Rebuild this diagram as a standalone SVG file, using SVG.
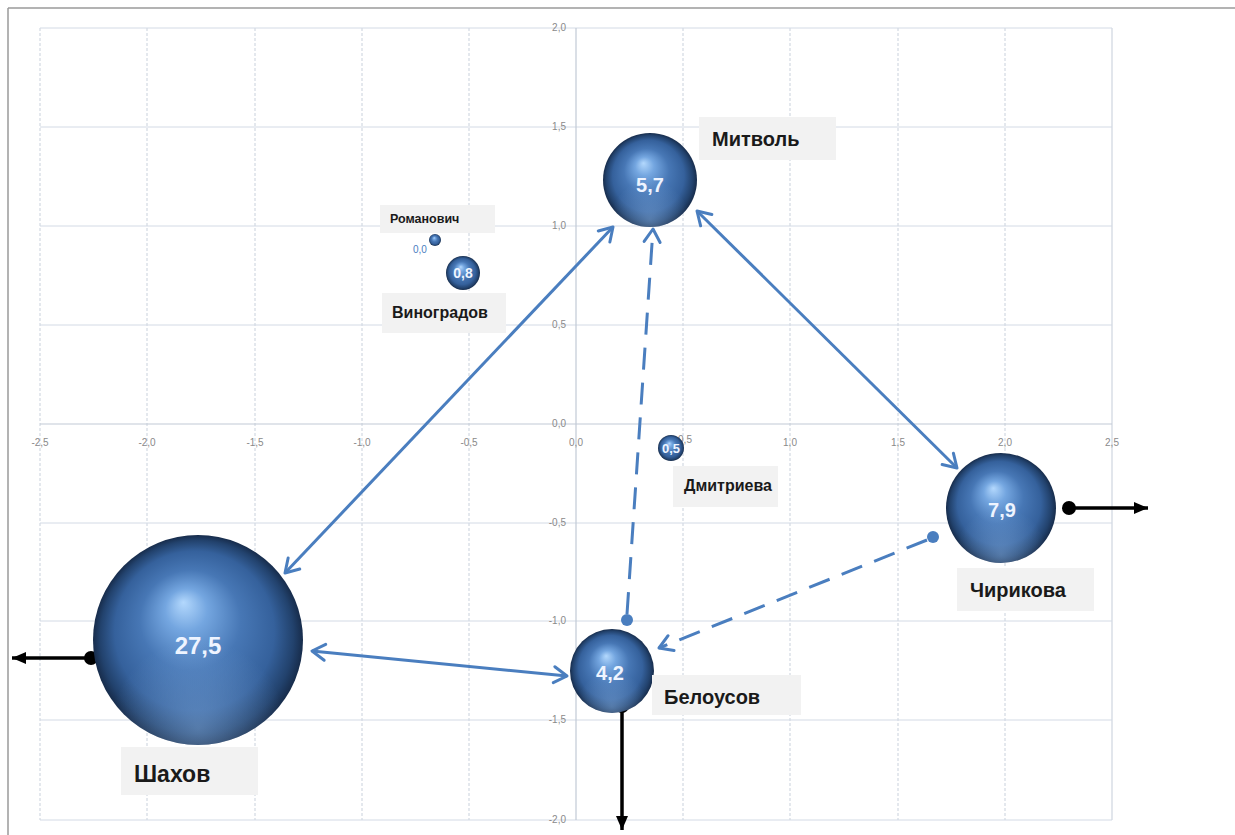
<svg xmlns="http://www.w3.org/2000/svg" width="1235" height="835" viewBox="0 0 1235 835">
<defs>
<radialGradient id="sph" cx="0.5" cy="0.5" r="0.5" fx="0.43" fy="0.32">
<stop offset="0" stop-color="#b3d8fd"/>
<stop offset="0.2" stop-color="#74a6e0"/>
<stop offset="0.48" stop-color="#4777b5"/>
<stop offset="0.76" stop-color="#35619c"/>
<stop offset="0.92" stop-color="#22426d"/>
<stop offset="1" stop-color="#172c4b"/>
</radialGradient>
<radialGradient id="rim" cx="0.5" cy="0.92" r="0.42">
<stop offset="0" stop-color="#8fb8e8" stop-opacity="0.45"/>
<stop offset="1" stop-color="#8fb8e8" stop-opacity="0"/>
</radialGradient>
<marker id="open" viewBox="0 0 20 20" markerWidth="20" markerHeight="20" refX="17" refY="10" orient="auto-start-reverse" markerUnits="userSpaceOnUse">
<path d="M4,2 L17,10 L4,18" fill="none" stroke="#4a7ebf" stroke-width="3" stroke-linecap="round" stroke-linejoin="round"/>
</marker>
<marker id="blk" viewBox="0 0 16 14" markerWidth="16" markerHeight="14" refX="15" refY="7" orient="auto" markerUnits="userSpaceOnUse">
<path d="M1,1 L15,7 L1,13 z" fill="#000"/>
</marker>
<style>
.vg{stroke:#c9d1dc;stroke-width:1;stroke-dasharray:3 2;fill:none}
.hg{stroke:#d3dae5;stroke-width:1;fill:none}
.ax{font-family:"Liberation Sans",Arial,sans-serif;font-size:10px;fill:#8a8a8a}
.lb{fill:#f2f2f2}
.lt{font-family:"Liberation Sans",Arial,sans-serif;font-weight:bold;fill:#1a1a1a}
.val{font-family:"Liberation Sans",Arial,sans-serif;font-weight:bold;fill:#eef4ff;text-anchor:middle}
.con{stroke:#4a7ebf;stroke-width:3;fill:none}
.dash{stroke-dasharray:22 13}
.out{stroke:#000;stroke-width:3.5;fill:none}
</style>
</defs>
<rect x="0" y="0" width="1235" height="835" fill="#ffffff"/>
<path d="M8,8 H1235 M8,8 V835" stroke="#9a9a9a" stroke-width="1.5" fill="none"/>
<g id="grid">
<path class="vg" d="M40,28V820 M147,28V820 M255,28V820 M362,28V820 M469,28V820 M683,28V820 M790,28V820 M898,28V820 M1005,28V820"/>
<path d="M1112,28V820" stroke="#cfd6e0" stroke-width="1.2"/>
<path class="hg" d="M40,28H1112 M40,127H1112 M40,226H1112 M40,325H1112 M40,523H1112 M40,621H1112 M40,720H1112 M40,820H1112"/>
<path d="M40,424H1112 M576,28V820" stroke="#c2cad6" stroke-width="1.2" fill="none"/>
</g>
<g id="axis-labels" class="ax">
<g text-anchor="end">
<text x="566" y="31">2,0</text>
<text x="566" y="130">1,5</text>
<text x="566" y="229">1,0</text>
<text x="566" y="328">0,5</text>
<text x="566" y="427">0,0</text>
<text x="566" y="526">-0,5</text>
<text x="566" y="624">-1,0</text>
<text x="566" y="723">-1,5</text>
<text x="566" y="823">-2,0</text>
</g>
<g text-anchor="middle">
<text x="40" y="446">-2,5</text>
<text x="147" y="446">-2,0</text>
<text x="255" y="446">-1,5</text>
<text x="362" y="446">-1,0</text>
<text x="469" y="446">-0,5</text>
<text x="576" y="446">0,0</text>
<text x="685" y="443">0,5</text>
<text x="790" y="446">1,0</text>
<text x="898" y="446">1,5</text>
<text x="1005" y="446">2,0</text>
<text x="1112" y="446">2,5</text>
</g>
</g>
<g id="connectors">
<line class="con" x1="285" y1="573" x2="613" y2="227" marker-start="url(#open)" marker-end="url(#open)"/>
<line class="con" x1="697" y1="211" x2="957" y2="468" marker-start="url(#open)" marker-end="url(#open)"/>
<line class="con" x1="312" y1="651" x2="567" y2="676" marker-start="url(#open)" marker-end="url(#open)"/>
<line class="con dash" x1="627" y1="614" x2="653" y2="229" marker-end="url(#open)"/>
<circle cx="627" cy="620" r="6" fill="#4a7ebf"/>
<line class="con dash" x1="927" y1="540" x2="659" y2="648" marker-end="url(#open)"/>
<circle cx="933" cy="537" r="6" fill="#4a7ebf"/>
<line class="out" x1="91" y1="658" x2="12" y2="658" marker-end="url(#blk)"/>
<circle cx="91" cy="658" r="7" fill="#000"/>
<line class="out" x1="1069" y1="508" x2="1148" y2="508" marker-end="url(#blk)"/>
<circle cx="1069" cy="508" r="7" fill="#000"/>
<line class="out" x1="622" y1="706" x2="622" y2="830" marker-end="url(#blk)"/>
<circle cx="622" cy="706" r="7" fill="#000"/>
</g>
<g id="node-shakhov">
<circle cx="198" cy="640" r="105" fill="url(#sph)"/>
<circle cx="198" cy="640" r="105" fill="url(#rim)"/>
<text class="val" x="198" y="654" font-size="24">27,5</text>
<rect class="lb" x="121" y="747" width="137" height="48"/>
<text class="lt" x="134" y="782" font-size="23">Шахов</text>
</g>
<g id="node-mitvol">
<circle cx="650" cy="180" r="47" fill="url(#sph)"/>
<circle cx="650" cy="180" r="47" fill="url(#rim)"/>
<text class="val" x="650" y="192" font-size="20">5,7</text>
<rect class="lb" x="699" y="117" width="137" height="43"/>
<text class="lt" x="712" y="146" font-size="20">Митволь</text>
</g>
<g id="node-chirikova">
<circle cx="1001" cy="508" r="55" fill="url(#sph)"/>
<circle cx="1001" cy="508" r="55" fill="url(#rim)"/>
<text class="val" x="1002" y="517" font-size="20">7,9</text>
<rect class="lb" x="957" y="568" width="137" height="43"/>
<text class="lt" x="970" y="597" font-size="20">Чирикова</text>
</g>
<g id="node-belousov">
<circle cx="612" cy="671" r="42" fill="url(#sph)"/>
<circle cx="612" cy="671" r="42" fill="url(#rim)"/>
<text class="val" x="610" y="680" font-size="20">4,2</text>
<rect class="lb" x="652" y="675" width="149" height="40"/>
<text class="lt" x="664" y="704" font-size="20">Белоусов</text>
</g>
<g id="node-vinogradov">
<circle cx="463" cy="273" r="17" fill="url(#sph)"/>
<text class="val" x="463" y="278" font-size="14">0,8</text>
<rect class="lb" x="382" y="293" width="124" height="40"/>
<text class="lt" x="392" y="318" font-size="16">Виноградов</text>
</g>
<g id="node-romanovich">
<circle cx="435" cy="240" r="6" fill="url(#sph)"/>
<text x="413" y="253" font-family="Liberation Sans,Arial,sans-serif" font-size="10" fill="#4a7ebf">0,0</text>
<rect class="lb" x="380" y="205" width="115" height="28"/>
<text class="lt" x="390" y="223" font-size="12.5">Романович</text>
</g>
<g id="node-dmitrieva">
<circle cx="671" cy="448" r="13" fill="url(#sph)"/>
<text class="val" x="671" y="453" font-size="13">0,5</text>
<rect class="lb" x="673" y="466" width="105" height="41"/>
<text class="lt" x="684" y="491" font-size="16">Дмитриева</text>
</g>
</svg>
